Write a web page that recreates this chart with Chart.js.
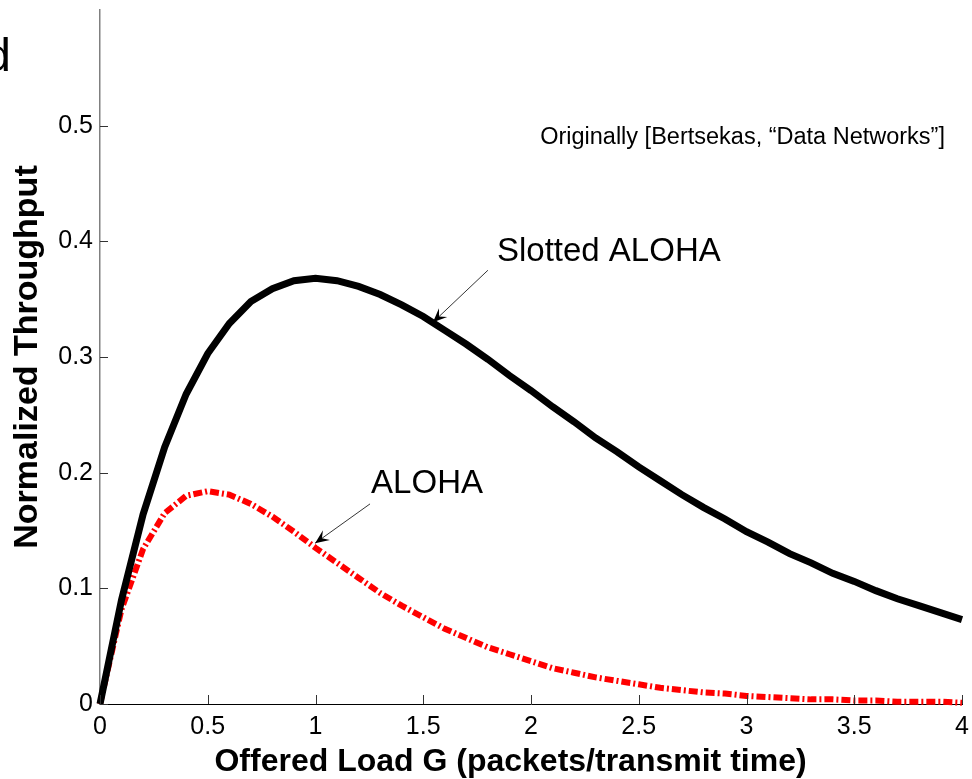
<!DOCTYPE html>
<html>
<head>
<meta charset="utf-8">
<script src="https://cdn.jsdelivr.net/npm/chart.js@4.4.0/dist/chart.umd.min.js"></script>
<style>
  body { margin: 0; background: #fff; }
  canvas { display: block; }
</style>
</head>
<body>
<canvas id="grafico" width="972" height="779"></canvas>
<script>
// offered load G (x axis)
const cargaG = [0, 0.1, 0.2, 0.3, 0.4, 0.5, 0.6, 0.7, 0.8, 0.9, 1.0,
  1.1, 1.2, 1.3, 1.4, 1.5, 1.6, 1.7, 1.8, 1.9, 2.0,
  2.1, 2.2, 2.3, 2.4, 2.5, 2.6, 2.7, 2.8, 2.9, 3.0,
  3.1, 3.2, 3.3, 3.4, 3.5, 3.6, 3.7, 3.8, 3.9, 4.0];

// throughput
const slottedAloha = [0, 0.090, 0.164, 0.222, 0.268, 0.303, 0.329, 0.348, 0.359, 0.366, 0.368,
  0.366, 0.361, 0.354, 0.345, 0.335, 0.323, 0.311, 0.298, 0.284, 0.271,
  0.257, 0.244, 0.230, 0.218, 0.205, 0.193, 0.181, 0.170, 0.160, 0.149,
  0.140, 0.130, 0.122, 0.113, 0.106, 0.098, 0.091, 0.085, 0.079, 0.073];

const pureAloha = [0, 0.082, 0.134, 0.165, 0.180, 0.184, 0.181, 0.173, 0.162, 0.149, 0.135,
  0.122, 0.109, 0.096, 0.085, 0.075, 0.065, 0.057, 0.049, 0.043, 0.037,
  0.031, 0.027, 0.023, 0.020, 0.017, 0.014, 0.012, 0.010, 0.009, 0.007,
  0.006, 0.005, 0.004, 0.004, 0.003, 0.003, 0.002, 0.002, 0.002, 0.001];

const ejeX = { min: 0, max: 4, step: 0.5 };
const ejeY = { min: 0, max: 0.6, step: 0.1 };

const tituloX = 'Offered Load G (packets/transmit time)';
const tituloY = 'Normalized Throughput';

// notes placed in data units: [G, S]
const notas = [
  { texto: 'Slotted ALOHA', pos: [1.842, 0.391], size: 33, align: 'left', cola: [1.80, 0.375], punta: [1.545, 0.330] },
  { texto: 'ALOHA', pos: [1.258, 0.190], size: 33, align: 'left', cola: [1.253, 0.173], punta: [0.998, 0.139] },
  { texto: 'Originally [Bertsekas, \u201cData Networks\u201d]', pos: [3.921, 0.490], size: 23.5, align: 'right' }
];

const fuente = '"Liberation Sans", Arial, sans-serif';

function puntos(ys) {
  return cargaG.map((g, i) => ({ x: g, y: ys[i] }));
}

function flecha(ctx, x0, y0, x1, y1) {
  ctx.save();
  ctx.strokeStyle = '#000';
  ctx.fillStyle = '#000';
  ctx.lineWidth = 0.8;
  ctx.beginPath();
  ctx.moveTo(x0, y0);
  ctx.lineTo(x1, y1);
  ctx.stroke();
  const ang = Math.atan2(y1 - y0, x1 - x0);
  const largo = 14, ancho = 6;
  ctx.translate(x1, y1);
  ctx.rotate(ang);
  ctx.beginPath();
  ctx.moveTo(0, 0);
  ctx.lineTo(-largo, -ancho);
  ctx.lineTo(-largo * 0.6, 0);
  ctx.lineTo(-largo, ancho);
  ctx.closePath();
  ctx.fill();
  ctx.restore();
}

function sinRelleno(s) {
  s.paddingLeft = 0;
  s.paddingRight = 0;
  s.paddingTop = 0;
  s.paddingBottom = 0;
}

const extras = {
  id: 'extras',
  afterDatasetsDraw(chart) {
    const { ctx, chartArea, scales } = chart;
    const x = scales.x, y = scales.y;
    ctx.save();
    // inner tick marks
    ctx.lineWidth = 1;
    ctx.strokeStyle = '#333';
    y.ticks.forEach(t => {
      if (t.value >= ejeY.max - 1e-9) return;
      const py = Math.round(y.getPixelForValue(t.value)) + 0.5;
      ctx.beginPath();
      ctx.moveTo(chartArea.left, py);
      ctx.lineTo(chartArea.left + 8, py);
      ctx.stroke();
    });
    x.ticks.forEach(t => {
      const px = Math.round(x.getPixelForValue(t.value)) + 0.5;
      ctx.beginPath();
      ctx.moveTo(px, chartArea.bottom);
      ctx.lineTo(px, chartArea.bottom - 9);
      ctx.stroke();
    });
    // notes
    notas.forEach(n => {
      ctx.font = n.size + 'px ' + fuente;
      ctx.fillStyle = '#000';
      ctx.textAlign = n.align;
      ctx.textBaseline = 'middle';
      ctx.fillText(n.texto, x.getPixelForValue(n.pos[0]), y.getPixelForValue(n.pos[1]));
      if (n.cola) {
        flecha(ctx, x.getPixelForValue(n.cola[0]), y.getPixelForValue(n.cola[1]),
          x.getPixelForValue(n.punta[0]), y.getPixelForValue(n.punta[1]));
      }
    });
    // x axis title
    ctx.font = 'bold 32px ' + fuente;
    ctx.textAlign = 'center';
    ctx.textBaseline = 'middle';
    ctx.fillText(tituloX, x.getPixelForValue(1.905), 762);
    // leftover letter of a cropped title
    ctx.font = '47px ' + fuente;
    ctx.textAlign = 'right';
    ctx.textBaseline = 'alphabetic';
    ctx.fillText('d', 11, 71);
    ctx.restore();
  }
};

const ctx = document.getElementById('grafico').getContext('2d');
const miGrafico = new Chart(ctx, {
  type: 'line',
  data: {
    datasets: [{
      label: 'Slotted ALOHA',
      data: puntos(slottedAloha),
      borderColor: '#000',
      borderWidth: 7,
      pointRadius: 0,
      tension: 0,
      clip: false
    }, {
      label: 'ALOHA',
      data: puntos(pureAloha),
      borderColor: '#ff0000',
      borderWidth: 6,
      borderDash: [9, 3, 2, 3],
      borderCapStyle: 'butt',
      pointRadius: 0,
      tension: 0,
      clip: false
    }]
  },
  options: {
    responsive: false,
    animation: false,
    devicePixelRatio: 1,
    layout: { padding: { top: 10, right: 10, left: 0, bottom: 0 } },
    plugins: { legend: { display: false }, tooltip: { enabled: false } },
    scales: {
      x: {
        type: 'linear',
        min: ejeX.min,
        max: ejeX.max,
        afterFit: s => { s.height = 75; sinRelleno(s); },
        grid: { display: true, drawOnChartArea: false, drawTicks: false },
        border: { display: true, color: '#000', width: 1 },
        ticks: {
          stepSize: ejeX.step,
          padding: 8,
          color: '#000',
          maxRotation: 0,
          font: { family: fuente, size: 25 },
          callback: v => String(Math.round(v * 10) / 10)
        }
      },
      y: {
        type: 'linear',
        min: ejeY.min,
        max: ejeY.max,
        afterFit: s => { s.width = 100; sinRelleno(s); },
        grid: { display: true, drawOnChartArea: false, drawTicks: false },
        border: { display: true, color: '#808080', width: 1.5 },
        ticks: {
          stepSize: ejeY.step,
          padding: 7,
          color: '#000',
          font: { family: fuente, size: 25 },
          callback: v => (v >= ejeY.max - 1e-9 ? '' : String(Math.round(v * 10) / 10))
        },
        title: {
          display: true,
          text: tituloY,
          color: '#000',
          padding: { top: 11, bottom: 0 },
          font: { family: fuente, size: 34, weight: 'bold', lineHeight: 1 }
        }
      }
    }
  },
  plugins: [extras]
});
</script>
</body>
</html>
